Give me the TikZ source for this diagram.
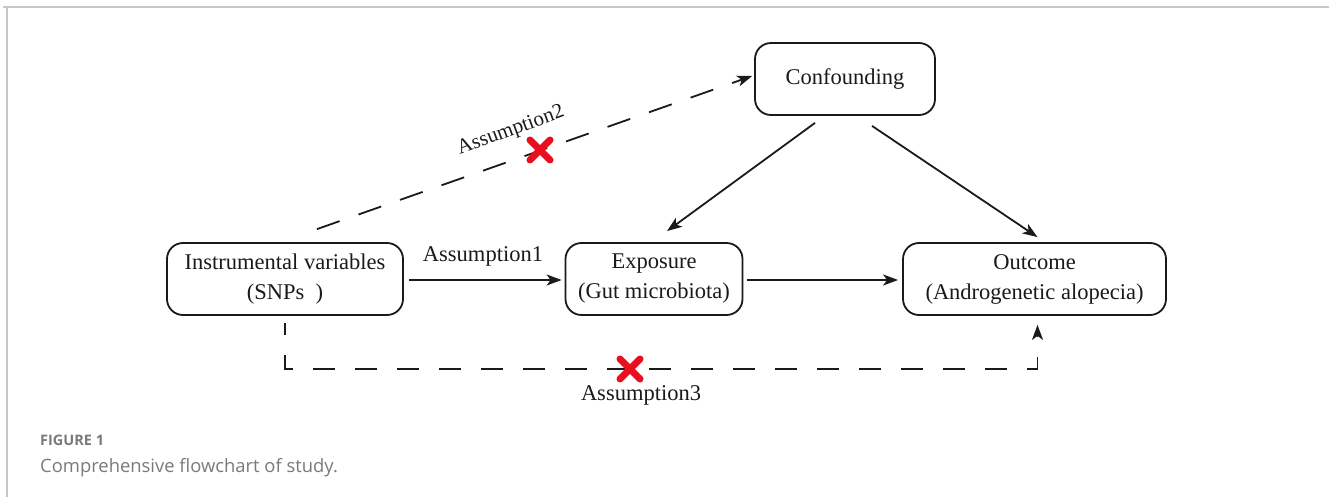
\documentclass[tikz,border=0pt]{standalone}
\usepackage{fontspec}
\setmainfont{Liberation Serif}
\newfontfamily\capfont{Open Sans}
\usetikzlibrary{arrows.meta,calc}
\definecolor{crossred}{HTML}{E8101E}
\definecolor{capgray}{HTML}{7A7A7A}
\definecolor{framegray}{HTML}{C8C8C8}
\definecolor{ink}{HTML}{1A1A1A}
\begin{document}
\begin{tikzpicture}[x=1pt,y=-1pt,
  box/.style={draw=ink,line width=1.8pt,rounded corners=16pt,minimum height=72pt,align=center,
    font=\fontsize{22.5}{30}\selectfont,inner sep=0pt,text=ink},
  tip/.style={-{Stealth[length=15pt,width=11pt,inset=4pt]}},
  arr/.style={draw=ink,line width=1.8pt,tip},
  darr/.style={draw=ink,line width=1.8pt,dash pattern=on 24pt off 20pt,tip},
  lab/.style={font=\fontsize{22.5}{26}\selectfont,inner sep=0pt,text=ink},
  xmark/.style={line width=7pt,line cap=round,crossred}]
\useasboundingbox (0,0) rectangle (1329,497);
\fill[white] (0,0) rectangle (1329,497);
% frame
\draw[framegray,line width=2pt] (3,7.5) -- (1329,7.5);
\draw[framegray,line width=1.2pt] (7,7.5) -- (7,497);
% nodes
\node[box,minimum width=180pt] (conf) at (845,79) {Confounding};
\node[box,minimum width=236pt] (iv) at (285,279) {Instrumental variables\\(SNPs\enspace)};
\node[box,minimum width=177pt] (exp) at (654,279) {Exposure\\(Gut microbiota)};
\node[box,minimum width=263pt] (out) at (1034.5,279) {Outcome\\(Androgenetic alopecia)};
% connectors
\draw[arr] ($(iv.east)+(5,1)$) -- ($(exp.west)+(-3,1)$);
\draw[arr] ($(exp.east)+(4,1)$) -- ($(out.west)+(-4,1)$);
\draw[arr] ($(conf.south)+(-30,7)$) -- ($(exp.north)+(13,-11)$);
\draw[arr] ($(conf.south)+(27,10)$) -- ($(out.north)+(3,-5)$);
\draw[darr] ($(iv.north)+(32,-13)$) -- ($(conf.west)+(-2,-3)$);
\coordinate (c1) at ($(iv.south)+(0,53)$);
\coordinate (c2) at ($(out.south)+(3,53)$);
\draw[darr,dash pattern=on 22pt off 20pt,dash phase=10pt] ($(iv.south)+(0,7)$) -- (c1) -- (c2) -- ($(out.south)+(3,9)$);
% labels
\node[lab] (a1) at (483,256) {Assumption1};
\node[lab,rotate=20,font=\fontsize{21}{24}\selectfont] (a2) at (511,131) {Assumption2};
\node[lab] (a3) at (641,395) {Assumption3};
% red crosses
\coordinate (x2) at (540,150);
\coordinate (x3) at (630,369);
\draw[xmark] ($(x2)+(-10,-10)$) -- ($(x2)+(10,10)$);
\draw[xmark] ($(x2)+(-10,10)$) -- ($(x2)+(10,-10)$);
\draw[xmark] ($(x3)+(-10,-10)$) -- ($(x3)+(10,10)$);
\draw[xmark] ($(x3)+(-10,10)$) -- ($(x3)+(10,-10)$);
% caption
\node[anchor=base west,inner sep=0pt,capgray,font=\capfont\bfseries\fontsize{14.5}{16}\selectfont] (fig) at (40,445) {FIGURE 1};
\node[anchor=base west,inner sep=0pt,capgray,font=\capfont\fontsize{18.4}{20}\selectfont] (cap) at (40,472) {Comprehensive flowchart of study.};
\end{tikzpicture}
\end{document}
